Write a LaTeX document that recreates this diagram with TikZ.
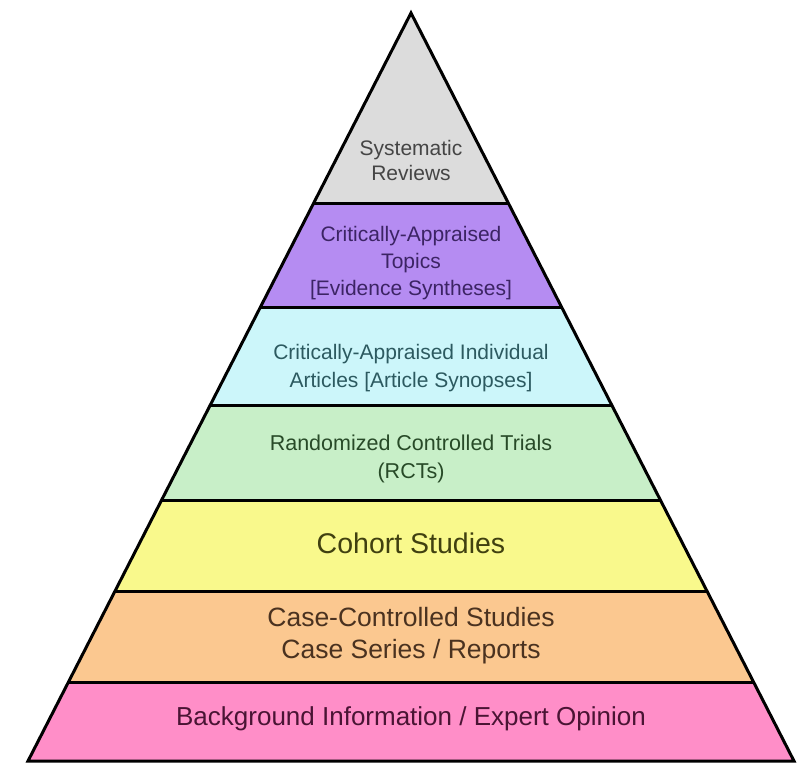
\documentclass[tikz,border=0pt]{standalone}
\usepackage{fontspec}
\setmainfont{Liberation Sans}
\definecolor{cgray}{HTML}{DCDCDC}
\definecolor{cpurple}{HTML}{B58CF2}
\definecolor{ccyan}{HTML}{CCF6FA}
\definecolor{cgreen}{HTML}{C8EFC8}
\definecolor{cyellow}{HTML}{F9F98C}
\definecolor{corange}{HTML}{FBC890}
\definecolor{cpink}{HTML}{FF8EC8}
\definecolor{tgray}{HTML}{454545}
\definecolor{tpurple}{HTML}{3C2464}
\definecolor{tcyan}{HTML}{2C5A60}
\definecolor{tgreen}{HTML}{284A28}
\definecolor{tyellow}{HTML}{404010}
\definecolor{torange}{HTML}{4A3220}
\definecolor{tpink}{HTML}{4A1434}
\tikzset{
  lbl/.style={align=center, inner sep=0pt},
  edge/.style={line width=3pt, line join=miter, line cap=butt}
}
\begin{document}
\begin{tikzpicture}[x=1pt,y=-1pt]
\useasboundingbox (0,0) rectangle (805,764);
\coordinate (A) at (411,13);
\coordinate (L) at (28,761);
\coordinate (R) at (794,761);
\begin{scope}
  \clip (A) -- (L) -- (R) -- cycle;
  \fill[cgray] (0,0) rectangle (805,203);
  \fill[cpurple] (0,203) rectangle (805,307);
  \fill[ccyan] (0,307) rectangle (805,405);
  \fill[cgreen] (0,405) rectangle (805,500);
  \fill[cyellow] (0,500) rectangle (805,591);
  \fill[corange] (0,591) rectangle (805,682);
  \fill[cpink] (0,682) rectangle (805,764);
  \foreach \yy in {203,307,405,500,591,682}
    \draw[line width=3pt] (0,\yy) -- (805,\yy);
\end{scope}
\draw[edge] (A) -- (L) -- (R) -- cycle;

\node[lbl, text=tgray, font=\fontsize{21}{25}\selectfont] (n1) at (411,160) {Systematic\\Reviews};
\node[lbl, text=tpurple, font=\fontsize{21}{27}\selectfont] (n2) at (411,263) {Critically-Appraised\\Topics\\{[}Evidence Syntheses{]}};
\node[lbl, text=tcyan, font=\fontsize{21}{28}\selectfont] (n3) at (411,368) {Critically-Appraised Individual\\Articles {[}Article Synopses{]}};
\node[lbl, text=tgreen, font=\fontsize{21.5}{28}\selectfont] (n4) at (411,459) {Randomized Controlled Trials\\(RCTs)};
\node[lbl, text=tyellow, font=\fontsize{28.5}{34}\selectfont] (n5) at (411,543) {Cohort Studies};
\node[lbl, text=torange, font=\fontsize{26.5}{32}\selectfont] (n6) at (411,636) {Case-Controlled Studies\\Case Series / Reports};
\node[lbl, text=tpink, font=\fontsize{26}{30}\selectfont] (n7) at (411,719) {Background Information / Expert Opinion};
\end{tikzpicture}
\end{document}
